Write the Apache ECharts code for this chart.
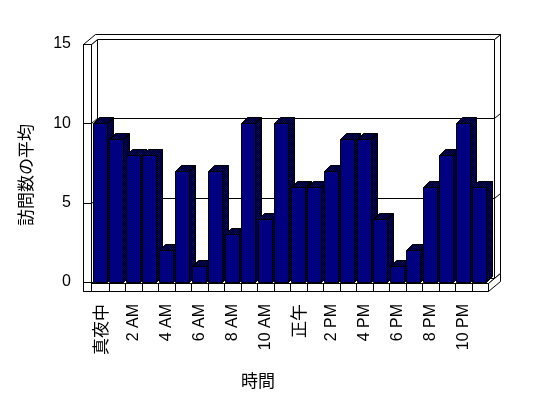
<!DOCTYPE html>
<html>
<head>
<meta charset="utf-8">
<script src="https://cdn.jsdelivr.net/npm/echarts@6/dist/echarts.min.js"></script>
<style>html,body{margin:0;padding:0;background:#fff}#c{width:548px;height:398px}</style>
</head>
<body>
<div id="c"></div>
<script>
var categories = ['真夜中','1 AM','2 AM','3 AM','4 AM','5 AM','6 AM','7 AM','8 AM','9 AM','10 AM','11 AM',
                  '正午','1 PM','2 PM','3 PM','4 PM','5 PM','6 PM','7 PM','8 PM','9 PM','10 PM','11 PM'];
var visits = [10, 9, 8, 8, 2, 7, 1, 7, 3, 10, 4, 10, 6, 6, 7, 9, 9, 4, 1, 2, 6, 8, 10, 6];
var yTicks = [0, 5, 10, 15];
var yTitle = '訪問数の平均';
var xTitle = '時間';

var FONT = "'Liberation Sans', 'Noto Sans CJK JP', sans-serif";
var CJK = "'Noto Sans CJK JP', sans-serif";

// dithered pattern (navy / black checker)
var pc = document.createElement('canvas');
pc.width = 2; pc.height = 2;
var pctx = pc.getContext('2d');
pctx.fillStyle = '#000000'; pctx.fillRect(0,0,2,2);
pctx.fillStyle = '#000080'; pctx.fillRect(0,0,1,1); pctx.fillRect(1,1,1,1);
var dither = {image: pc, repeat: 'repeat'};

function px(v){ return Math.round(v) + 0.5; }
var LS = {stroke:'#000', lineWidth:1, fill:null};
function line(x1,y1,x2,y2){ return {type:'line', shape:{x1:x1,y1:y1,x2:x2,y2:y2}, style:LS, silent:true}; }
function poly(pts, fill){ return {type:'polygon', shape:{points:pts}, style:{fill:fill, stroke:'#000', lineWidth:1}, silent:true}; }

// depth step of walls
var DX = 6, DY = -5, WALL = 8;

function renderFrame(params, api){
  var cs = params.coordSys;
  var L = cs.x, R = px(cs.x + cs.width), T = px(cs.y), B = cs.y + cs.height;
  var x0 = px(L - 1), xo = x0 - WALL, yf = px(B + 1), yb = yf + WALL;
  var ch = [];
  // back wall front face
  ch.push(poly([[x0+DX,T+DY],[R+DX,T+DY],[R+DX,yf+DY],[x0+DX,yf+DY]], '#fff'));
  // back wall right face
  ch.push(poly([[R+DX,T+DY],[R+2*DX,T+2*DY],[R+2*DX,yf+2*DY],[R+DX,yf+DY]], '#fff'));
  // left wall inner face
  ch.push(poly([[x0,T],[x0+DX,T+DY],[x0+DX,yf+DY],[x0,yf]], '#fff'));
  // gridlines on walls
  yTicks.forEach(function(v){
    if (v === 0 || v === 15) return;
    var y = px(api.coord([0, v])[1]);
    ch.push(line(x0+DX, y+DY, R+DX, y+DY));
    ch.push(line(R+DX, y+DY, R+2*DX, y+2*DY));
    ch.push(line(x0, y, x0+DX, y+DY));
  });
  // top faces (left wall + back wall)
  ch.push(poly([[xo,T],[x0,T],[x0+DX,T+DY],[R+DX,T+DY],[R+2*DX,T+2*DY],[xo+2*DX,T+2*DY]], '#fff'));
  // floor top face
  ch.push(poly([[x0,yf],[R,yf],[R+DX,yf+DY],[x0+DX,yf+DY]], '#fff'));
  // floor right face
  ch.push(poly([[R,yf],[R,yb],[R+2*DX,yb+2*DY],[R+2*DX,yf+2*DY]], '#fff'));
  // floor front face
  ch.push(poly([[xo,yf],[R,yf],[R,yb],[xo,yb]], '#fff'));
  for (var i = 1; i < categories.length; i++) {
    var bx = px(api.coord([i, 0])[0] - api.size([1, 0])[0] / 2);
    ch.push(line(bx, yf, bx, yb));
  }
  // left wall front face
  ch.push(poly([[xo,T],[x0,T],[x0,yb],[xo,yb]], '#fff'));
  yTicks.forEach(function(v){
    var y = px(api.coord([0, v])[1]);
    ch.push(line(xo, y, x0, y));
  });
  return {type:'group', children: ch};
}

function renderBar(params, api){
  var i = api.value(0), v = api.value(1);
  var bw = api.size([1, 0])[0];
  var p0 = api.coord([i, 0]), p1 = api.coord([i, v]);
  var l = px(p0[0] - bw/2 + 0.5), r = px(p0[0] - bw/2 + 0.5 + bw*0.85);
  var yt = px(p1[1]), yb = px(p0[1]);
  var d = 6;
  return {type:'group', children:[
    poly([[r,yt],[r+d,yt-d],[r+d,yb-d],[r,yb]], dither),
    poly([[l,yt],[r,yt],[r+d,yt-d],[l+d,yt-d]], dither),
    {type:'rect', shape:{x:l, y:yt, width:r-l, height:yb-yt}, style:{fill:'#000080', stroke:'#000', lineWidth:1}}
  ]};
}

var chart = echarts.init(document.getElementById('c'), null, {renderer:'canvas'});
chart.setOption({
  animation: false,
  backgroundColor: '#fff',
  grid: {left: 92, right: 60, top: 44, bottom: 116, containLabel: false},
  xAxis: {
    type: 'category', data: categories, boundaryGap: true,
    axisLine: {show:false}, axisTick: {show:false}, splitLine:{show:false},
    axisLabel: {
      interval: 1, rotate: 90, margin: 22, fontSize: 16, color: '#000', fontFamily: FONT,
      formatter: function(v){ return /[A-Z]/.test(v) ? v : '{j|' + v + '}'; },
      rich: {j: {fontSize: 17, fontFamily: CJK, color: '#000'}}
    },
    name: xTitle, nameLocation: 'middle', nameGap: 90,
    nameTextStyle: {fontSize: 17, color: '#000', fontFamily: CJK, padding: [0, 64, 0, 0]}
  },
  yAxis: {
    type: 'value', min: 0, max: 15, interval: 5,
    axisLine: {show:false}, axisTick: {show:false}, splitLine: {show:false},
    axisLabel: {margin: 21, fontSize: 16, color: '#000', fontFamily: FONT},
    name: yTitle, nameLocation: 'middle', nameRotate: 90, nameGap: 58,
    nameTextStyle: {fontSize: 17, color: '#000', fontFamily: CJK, padding: [0, 24, 0, 0]}
  },
  series: [
    {type:'custom', renderItem: renderFrame, data: [[0, 0]], silent: true, z: 1, clip: false},
    {type:'custom', renderItem: renderBar, data: visits.map(function(v, i){ return [i, v]; }), z: 2, clip: false}
  ]
});
</script>
</body>
</html>
